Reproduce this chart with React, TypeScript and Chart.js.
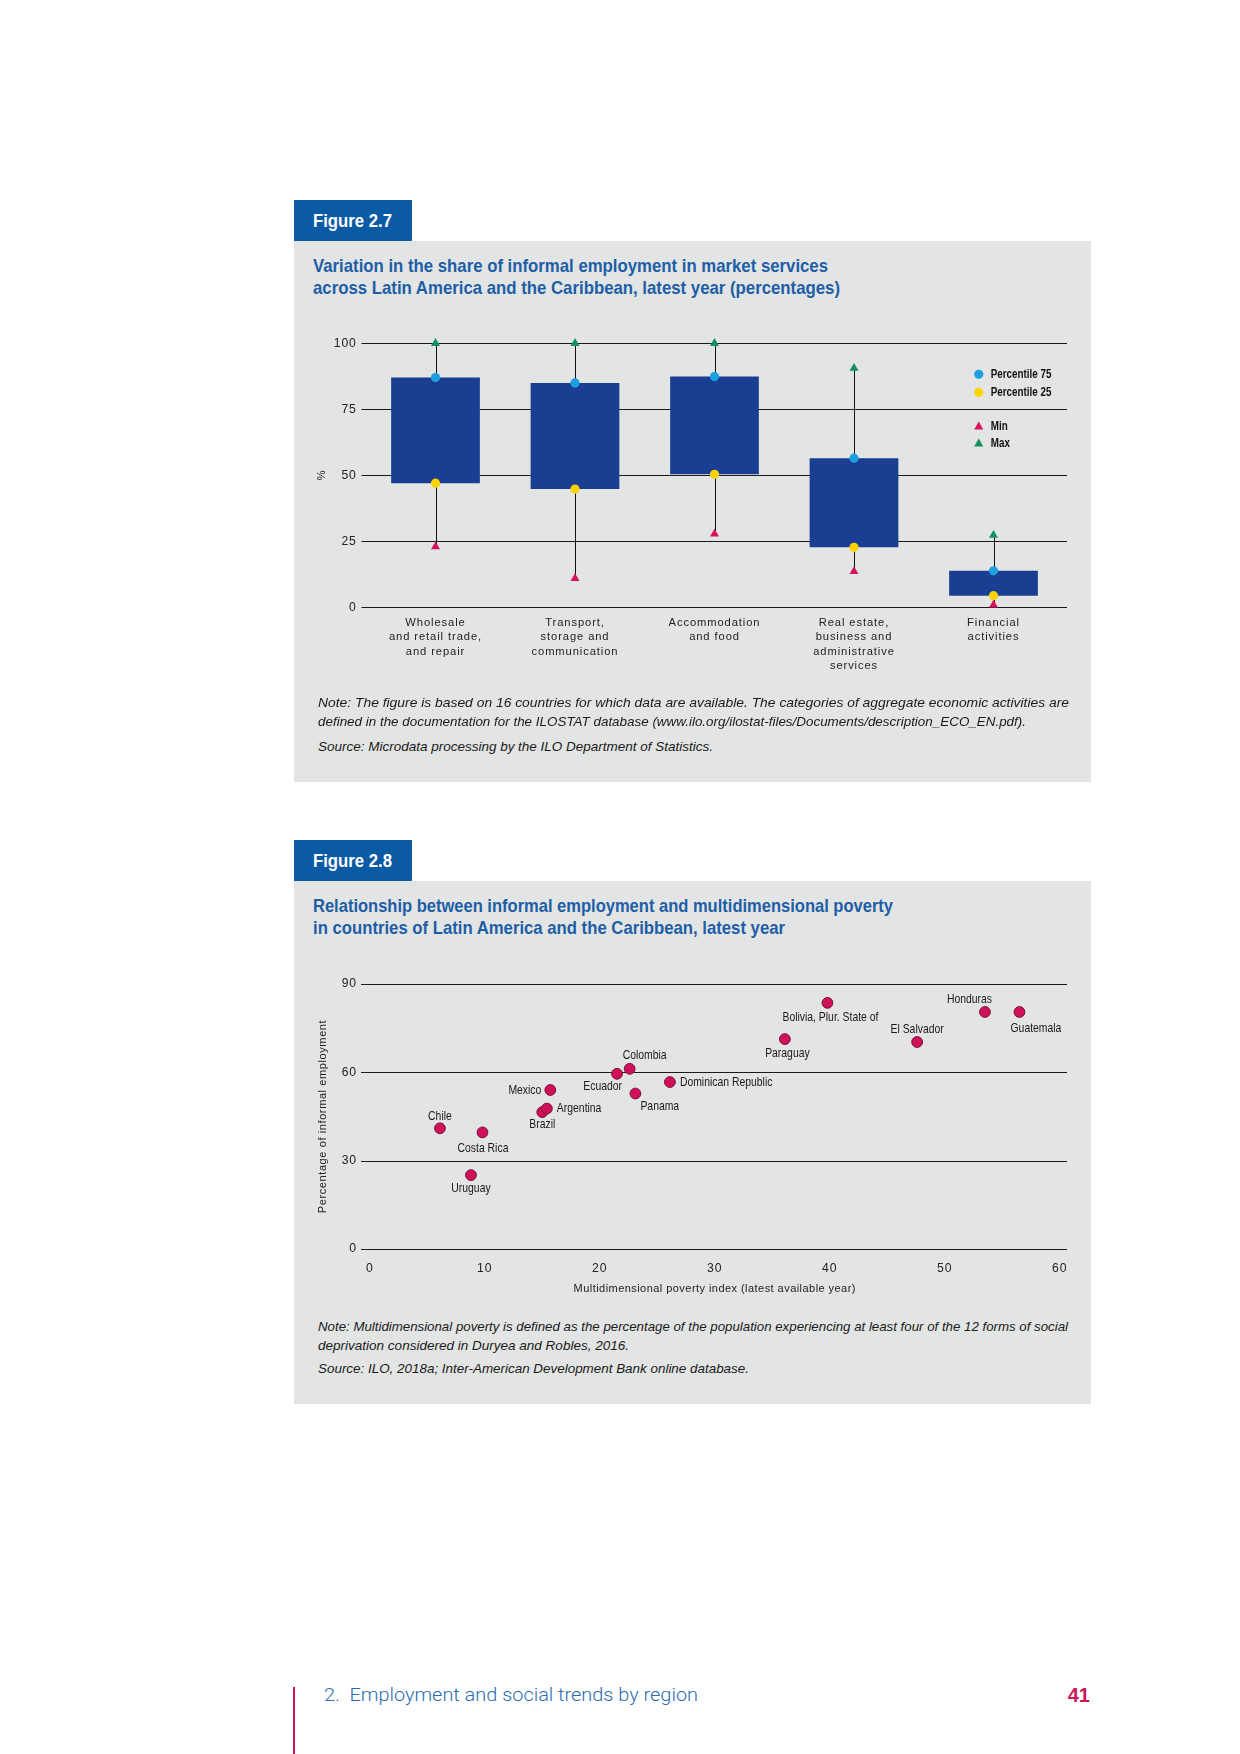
import React, { useEffect, useLayoutEffect, useRef } from "react";
import { Chart, registerables } from "chart.js";

Chart.register(...registerables);

// ---------- Figure 2.7 data ----------
const sectors: string[][] = [
  ["Wholesale", "and retail trade,", "and repair"],
  ["Transport,", "storage and", "communication"],
  ["Accommodation", "and food"],
  ["Real estate,", "business and", "administrative", "services"],
  ["Financial", "activities"],
];
const percentile75 = [87, 85, 87.4, 56.5, 13.8];
const percentile25 = [47, 44.8, 50.4, 22.7, 4.4];
const minValues = [23, 10.9, 27.8, 13.6, 0.9];
const maxValues = [100, 100, 100, 90.6, 27.3];
const boxTicks = [0, 25, 50, 75, 100];

// ---------- Figure 2.8 data ----------
const countries = [
  "Chile", "Costa Rica", "Uruguay", "Brazil", "Argentina", "Mexico", "Ecuador", "Colombia",
  "Panama", "Dominican Republic", "Paraguay", "Bolivia, Plur. State of", "El Salvador", "Honduras", "Guatemala",
];
const povertyIndex = [6.1, 9.8, 8.8, 15.0, 15.4, 15.7, 21.5, 22.6, 23.1, 26.1, 36.1, 39.8, 47.6, 53.5, 56.5];
const informalShare = [41.0, 39.6, 25.1, 46.5, 47.7, 54.0, 59.5, 61.2, 52.8, 56.7, 71.3, 83.6, 70.3, 80.5, 80.5];
const scatterYTicks = [0, 30, 60, 90];

// label placement for each country: [dx, dy, align]
const labelPlacement: [number, number, CanvasTextAlign][] = [
  [0, -12, "center"], // Chile
  [0.5, 16, "center"], // Costa Rica
  [0, 13.5, "center"], // Uruguay
  [0, 12, "center"], // Brazil
  [10, 0, "left"], // Argentina
  [-9, 0, "right"], // Mexico
  [5, 12.5, "right"], // Ecuador
  [15, -13, "center"], // Colombia
  [5, 13, "left"], // Panama
  [10, 0, "left"], // Dominican Republic
  [2.5, 14, "center"], // Paraguay
  [3, 14.5, "center"], // Bolivia
  [0, -12.5, "center"], // El Salvador
  [-15.5, -13, "center"], // Honduras
  [16.5, 16, "center"], // Guatemala
];

const SANS = '"Liberation Sans", Arial, sans-serif';
const NARROW_X = 0.8;
const TITLE_BLUE = "#1d5ea7";
const TAB_BLUE = "#0b5aa4";
const PANEL = "#e3e4e4";
const BOX_BLUE = "#1a3e92";
const P75_COLOR = "#1d9fe2";
const P25_COLOR = "#fbd400";
const MIN_COLOR = "#d6145e";
const MAX_COLOR = "#12905f";
const DOT_COLOR = "#d1105a";

function narrowText(
  ctx: CanvasRenderingContext2D,
  text: string,
  x: number,
  y: number,
  align: CanvasTextAlign,
  sx: number
) {
  ctx.save();
  ctx.translate(x, y);
  ctx.scale(sx, 1);
  ctx.textAlign = align;
  ctx.fillText(text, 0, 0);
  ctx.restore();
}

function drawTriangle(ctx: CanvasRenderingContext2D, x: number, y: number, r: number) {
  ctx.beginPath();
  ctx.moveTo(x, y - r);
  ctx.lineTo(x + r * 0.866, y + r * 0.5);
  ctx.lineTo(x - r * 0.866, y + r * 0.5);
  ctx.closePath();
  ctx.fill();
}

const gridPlugin = {
  id: "customGrid",
  beforeDraw(chart: any) {
    chart.ctx.letterSpacing = "0.9px";
  },
  beforeDatasetsDraw(chart: any, _a: any, opts: any) {
    const { ctx, chartArea } = chart;
    const ys = chart.scales.y;
    ctx.save();
    ctx.letterSpacing = "0px";
    ctx.strokeStyle = "#1b1b1b";
    ctx.lineWidth = 1.2;
    (opts.ticks as number[]).forEach((v) => {
      const y = Math.round(ys.getPixelForValue(v)) + 0.5;
      ctx.beginPath();
      ctx.moveTo(chartArea.left - opts.extendLeft, y);
      ctx.lineTo(chartArea.right + opts.extendRight, y);
      ctx.stroke();
    });
    ctx.restore();
  },
  afterDraw(chart: any) {
    chart.ctx.letterSpacing = "0px";
  },
};

function BoxChart() {
  const ref = useRef<HTMLCanvasElement>(null);
  useEffect(() => {
    const whiskerPlugin = {
      id: "whiskers",
      beforeDatasetsDraw(chart: any) {
        const { ctx } = chart;
        const xs = chart.scales.x;
        const ys = chart.scales.y;
        ctx.save();
        ctx.strokeStyle = "#111";
        ctx.lineWidth = 1;
        sectors.forEach((_, i) => {
          const x = Math.round(xs.getPixelForValue(i)) + 0.5;
          ctx.beginPath();
          ctx.moveTo(x, ys.getPixelForValue(minValues[i]));
          ctx.lineTo(x, ys.getPixelForValue(maxValues[i]));
          ctx.stroke();
        });
        ctx.restore();
      },
      afterDatasetsDraw(chart: any) {
        const { ctx, chartArea } = chart;
        const ys = chart.scales.y;
        ctx.save();
        ctx.letterSpacing = "0px";
        const lx = chartArea.right - 84.5;
        const items = [
          { ds: 1, dy: 31, shape: "circle" },
          { ds: 2, dy: 49, shape: "circle" },
          { ds: 3, dy: 83, shape: "triangle" },
          { ds: 4, dy: 100, shape: "triangle" },
        ];
        items.forEach((it) => {
          const d = chart.data.datasets[it.ds];
          const y = chartArea.top + it.dy;
          ctx.fillStyle = d.pointBackgroundColor;
          if (it.shape === "circle") {
            ctx.beginPath();
            ctx.arc(lx, y, 4.6, 0, Math.PI * 2);
            ctx.fill();
          } else {
            drawTriangle(ctx, lx, y + 0.5, 5.2);
          }
          ctx.fillStyle = "#111";
          ctx.font = `bold 12px ${SANS}`;
          ctx.textBaseline = "middle";
          narrowText(ctx, d.label, lx + 12, y, "left", 0.82);
        });
        ctx.translate(chartArea.left - 44, ys.getPixelForValue(50));
        ctx.rotate(-Math.PI / 2);
        ctx.font = `11px ${SANS}`;
        ctx.fillStyle = "#222";
        ctx.textAlign = "center";
        ctx.textBaseline = "middle";
        ctx.fillText("%", 0, 0);
        ctx.restore();
      },
    };

    const pointSet = (label: string, data: number[], style: string, r: number, color: string) =>
      ({
        type: "line",
        label,
        data,
        showLine: false,
        pointStyle: style,
        pointRadius: r,
        pointBorderWidth: 0,
        pointBackgroundColor: color,
        order: 1,
        clip: false,
      } as any);

    const chart = new Chart(ref.current!, {
      type: "bar",
      data: {
        labels: sectors as any,
        datasets: [
          {
            type: "bar",
            label: "Percentile 25 to 75",
            data: sectors.map((_, i) => [percentile25[i], percentile75[i]]) as any,
            backgroundColor: BOX_BLUE,
            borderWidth: 0,
            barPercentage: 0.636,
            categoryPercentage: 1,
            order: 10,
          },
          pointSet("Percentile 75", percentile75, "circle", 4.6, P75_COLOR),
          pointSet("Percentile 25", percentile25, "circle", 4.6, P25_COLOR),
          pointSet("Min", minValues, "triangle", 5.2, MIN_COLOR),
          pointSet("Max", maxValues, "triangle", 5.2, MAX_COLOR),
        ],
      },
      options: {
        responsive: false,
        animation: false,
        devicePixelRatio: 1,
        layout: { padding: { top: 43.3, right: 27.75, left: 0, bottom: 0 } },
        plugins: {
          legend: { display: false },
          tooltip: { enabled: false },
          customGrid: { ticks: boxTicks, extendLeft: 4.25, extendRight: 3.75 },
        } as any,
        scales: {
          x: {
            grid: { display: false },
            border: { display: false },
            ticks: {
              color: "#222",
              font: { family: SANS, size: 11.2, lineHeight: 1.3 },
              padding: 0,
              maxRotation: 0,
              autoSkip: false,
            },
            afterFit: (s: any) => {
              s.height = 92.7;
            },
          },
          y: {
            min: 0,
            max: 100,
            grid: { display: false },
            border: { display: false },
            afterBuildTicks: (s: any) => {
              s.ticks = boxTicks.map((v) => ({ value: v }));
            },
            ticks: { color: "#222", font: { family: SANS, size: 12.2 }, padding: 1 },
            afterFit: (s: any) => {
              s.width = 71.75;
            },
          },
        },
      },
      plugins: [gridPlugin, whiskerPlugin],
    });
    return () => chart.destroy();
  }, []);
  return (
    <canvas
      ref={ref}
      width={797}
      height={400}
      style={{ position: "absolute", left: 294, top: 300, width: 797, height: 400 }}
    />
  );
}

function ScatterChart() {
  const ref = useRef<HTMLCanvasElement>(null);
  useEffect(() => {
    const labelPlugin = {
      id: "pointLabels",
      afterDatasetsDraw(chart: any) {
        const { ctx, chartArea } = chart;
        const meta = chart.getDatasetMeta(0);
        ctx.save();
        ctx.letterSpacing = "0px";
        ctx.font = `13px ${SANS}`;
        ctx.fillStyle = "#1a1a1a";
        ctx.textBaseline = "middle";
        meta.data.forEach((pt: any, i: number) => {
          const [dx, dy, align] = labelPlacement[i];
          narrowText(ctx, countries[i], pt.x + dx, pt.y + dy, align, NARROW_X);
        });
        ctx.font = `11px ${SANS}`;
        ctx.letterSpacing = "0.45px";
        ctx.fillStyle = "#222";
        ctx.textAlign = "center";
        ctx.fillText(
          "Multidimensional poverty index (latest available year)",
          (chartArea.left + chartArea.right) / 2,
          chartArea.bottom + 40
        );
        ctx.translate(chartArea.left - 47, (chartArea.top + chartArea.bottom) / 2);
        ctx.rotate(-Math.PI / 2);
        ctx.letterSpacing = "0.6px";
        ctx.fillText("Percentage of informal employment", 0, 0);
        ctx.restore();
      },
    };
    const chart = new Chart(ref.current!, {
      type: "scatter",
      data: {
        datasets: [
          {
            label: "Countries",
            data: countries.map((_, i) => ({ x: povertyIndex[i], y: informalShare[i] })),
            pointRadius: 5.4,
            pointBackgroundColor: DOT_COLOR,
            pointBorderColor: "#7a0f37",
            pointBorderWidth: 1,
            clip: false,
          } as any,
        ],
      },
      options: {
        responsive: false,
        animation: false,
        devicePixelRatio: 1,
        layout: { padding: { top: 44, right: 31.3, left: 0, bottom: 0 } },
        plugins: {
          legend: { display: false },
          tooltip: { enabled: false },
          customGrid: { ticks: scatterYTicks, extendLeft: 8.8, extendRight: 7.3 },
        } as any,
        scales: {
          x: {
            type: "linear",
            min: 0,
            max: 60,
            grid: { display: false },
            border: { display: false },
            ticks: { stepSize: 10, color: "#222", font: { family: SANS, size: 12.2 }, padding: 4 },
            afterFit: (s: any) => {
              s.height = 61;
            },
          },
          y: {
            min: 0,
            max: 90,
            grid: { display: false },
            border: { display: false },
            afterBuildTicks: (s: any) => {
              s.ticks = scatterYTicks.map((v) => ({ value: v }));
            },
            ticks: { color: "#222", font: { family: SANS, size: 12.2 }, padding: 4.8 },
            afterFit: (s: any) => {
              s.width = 75.8;
            },
          },
        },
      },
      plugins: [gridPlugin, labelPlugin],
    });
    return () => chart.destroy();
  }, []);
  return (
    <canvas
      ref={ref}
      width={797}
      height={370}
      style={{ position: "absolute", left: 294, top: 940, width: 797, height: 370 }}
    />
  );
}

// A single line of text squeezed horizontally to a given width (condensed typeface look).
function FitLine({ text, width, style }: { text: string; width: number; style: React.CSSProperties }) {
  const ref = useRef<HTMLSpanElement>(null);
  useLayoutEffect(() => {
    const el = ref.current!;
    el.style.transform = "none";
    const natural = el.getBoundingClientRect().width;
    if (natural > 0) el.style.transform = `scaleX(${width / natural})`;
  }, [text, width]);
  return (
    <div style={{ height: style.lineHeight, whiteSpace: "nowrap" }}>
      <span ref={ref} style={{ ...style, display: "inline-block", transformOrigin: "0 0", whiteSpace: "nowrap" }}>
        {text}
      </span>
    </div>
  );
}

const abs = (s: React.CSSProperties): React.CSSProperties => ({ position: "absolute", ...s });

const titleFont: React.CSSProperties = {
  fontFamily: SANS,
  fontWeight: "bold",
  fontSize: 19,
  lineHeight: "22px",
  color: TITLE_BLUE,
};
const tabFont: React.CSSProperties = {
  fontFamily: SANS,
  fontWeight: "bold",
  fontSize: 19,
  lineHeight: "41px",
  color: "#fff",
};
const noteFont: React.CSSProperties = {
  fontFamily: SANS,
  fontStyle: "italic",
  fontSize: 13.3,
  lineHeight: "19px",
  color: "#1a1a1a",
};

function Tab({ top, text }: { top: number; text: string }) {
  return (
    <div style={abs({ left: 294, top, width: 118, height: 41, background: TAB_BLUE })}>
      <div style={abs({ left: 19, top: 0 })}>
        <FitLine text={text} width={79} style={tabFont} />
      </div>
    </div>
  );
}

export default function App() {
  return (
    <div style={abs({ left: 0, top: 0, width: 1240, height: 1754, background: "#fff", overflow: "hidden" })}>
      {/* Figure 2.7 */}
      <Tab top={200} text="Figure 2.7" />
      <div style={abs({ left: 294, top: 241, width: 797, height: 541, background: PANEL })} />
      <div style={abs({ left: 313, top: 255 })}>
        <FitLine text="Variation in the share of informal employment in market services" width={515} style={titleFont} />
        <FitLine text="across Latin America and the Caribbean, latest year (percentages)" width={527} style={titleFont} />
      </div>
      <BoxChart />
      <div style={abs({ left: 318, top: 693 })}>
        <FitLine
          text="Note: The figure is based on 16 countries for which data are available. The categories of aggregate economic activities are"
          width={751}
          style={noteFont}
        />
        <FitLine
          text="defined in the documentation for the ILOSTAT database (www.ilo.org/ilostat-files/Documents/description_ECO_EN.pdf)."
          width={708}
          style={noteFont}
        />
      </div>
      <div style={abs({ left: 318, top: 736.5 })}>
        <FitLine text="Source: Microdata processing by the ILO Department of Statistics." width={395} style={noteFont} />
      </div>

      {/* Figure 2.8 */}
      <Tab top={840} text="Figure 2.8" />
      <div style={abs({ left: 294, top: 881, width: 797, height: 523, background: PANEL })} />
      <div style={abs({ left: 313, top: 895 })}>
        <FitLine text="Relationship between informal employment and multidimensional poverty" width={580} style={titleFont} />
        <FitLine text="in countries of Latin America and the Caribbean, latest year" width={472} style={titleFont} />
      </div>
      <ScatterChart />
      <div style={abs({ left: 318, top: 1316.5 })}>
        <FitLine
          text="Note: Multidimensional poverty is defined as the percentage of the population experiencing at least four of the 12 forms of social"
          width={750}
          style={noteFont}
        />
        <FitLine text="deprivation considered in Duryea and Robles, 2016." width={311} style={noteFont} />
      </div>
      <div style={abs({ left: 318, top: 1358.5 })}>
        <FitLine text="Source: ILO, 2018a; Inter-American Development Bank online database." width={431} style={noteFont} />
      </div>

      {/* Footer */}
      <div style={abs({ left: 293, top: 1687, width: 2, height: 67, background: "#c8175d" })} />
      <div style={abs({ left: 324, top: 1683 })}>
        <FitLine
          text={"2.\u00a0\u00a0Employment and social trends by region"}
          width={374}
          style={{ fontFamily: "Roboto, " + SANS, fontWeight: 300, fontSize: 19, lineHeight: "24px", color: "#2b6cb1" }}
        />
      </div>
      <div
        style={abs({
          right: 150,
          top: 1683,
          fontFamily: SANS,
          fontWeight: "bold",
          fontSize: 20,
          lineHeight: "24px",
          color: "#c8175d",
        })}
      >
        41
      </div>
    </div>
  );
}
